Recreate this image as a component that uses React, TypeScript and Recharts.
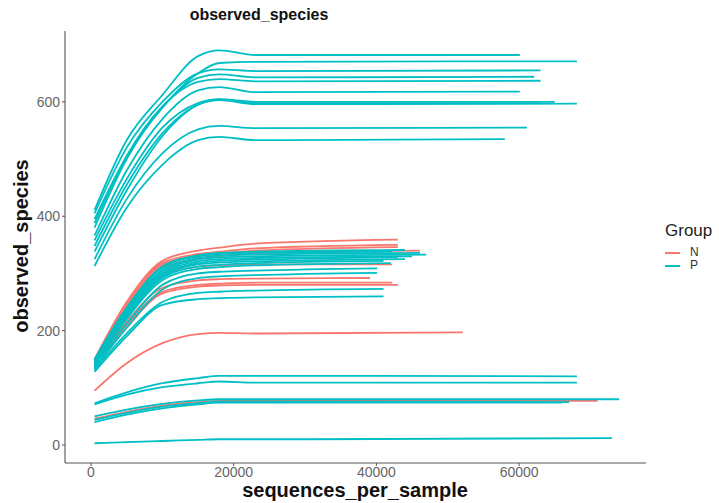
import React from "react";
import { LineChart, Line, XAxis, YAxis } from "recharts";

// rarefaction depths shared by every sample curve
const depths = [500, 5000, 10000, 15000, 18000, 23000];

// each row: values at the depths above, then last depth and value at last depth
const nSamples = [
  [150, 250, 322, 340, 345, 352, 43000, 359],
  [148, 245, 318, 334, 338, 344, 43000, 350],
  [145, 240, 315, 330, 335, 340, 43000, 346],
  [142, 235, 310, 325, 330, 335, 46100, 340],
  [140, 225, 295, 312, 314, 316, 42200, 316],
  [138, 215, 275, 288, 290, 291, 39100, 292],
  [136, 210, 268, 280, 282, 284, 42200, 284],
  [135, 205, 265, 277, 279, 280, 43000, 280],
  [95, 143, 178, 194, 196, 195, 52100, 197],
  [46, 58, 69, 75, 77, 77, 71000, 77],
];

const pSamplesHigh = [
  [411, 533, 612, 680, 690, 682, 60100, 682],
  [395, 505, 590, 650, 668, 670, 68100, 671],
  [405, 520, 600, 650, 657, 654, 63000, 655],
  [380, 500, 590, 642, 648, 643, 62100, 644],
  [388, 505, 592, 635, 640, 636, 63000, 637],
  [366, 480, 570, 620, 626, 617, 60100, 618],
  [358, 465, 555, 598, 605, 600, 65000, 600],
  [348, 455, 545, 595, 603, 596, 68100, 597],
  [338, 445, 540, 595, 604, 598, 63000, 598],
  [325, 430, 510, 552, 558, 554, 61100, 555],
  [313, 415, 490, 533, 539, 533, 58000, 535],
];

const pSamplesMid = [
  [150, 240, 312, 332, 336, 338, 44000, 341],
  [148, 238, 310, 330, 334, 336, 42200, 338],
  [146, 236, 306, 327, 331, 333, 46100, 336],
  [145, 233, 303, 324, 328, 330, 47000, 333],
  [143, 230, 300, 321, 325, 327, 45000, 330],
  [141, 228, 298, 318, 322, 324, 43000, 328],
  [140, 225, 295, 316, 319, 321, 44000, 325],
  [138, 222, 292, 312, 315, 318, 41000, 322],
  [137, 220, 288, 308, 311, 314, 42000, 318],
  [135, 212, 280, 300, 303, 305, 40100, 309],
  [133, 205, 272, 292, 295, 297, 40100, 301],
  [131, 195, 250, 266, 268, 270, 41000, 273],
  [128, 190, 245, 255, 257, 258, 41000, 260],
];

const pSamplesLow = [
  [73, 92, 108, 117, 121, 121, 68100, 120],
  [71, 88, 101, 108, 111, 109, 68100, 109],
  [50, 62, 72, 78, 80, 80, 74000, 80],
  [44, 56, 67, 73, 76, 76, 67000, 75],
  [40, 53, 64, 71, 74, 74, 66000, 74],
  [3, 5, 7, 9, 10, 10, 73000, 12],
];

const xTicks = [0, 20000, 40000, 60000];
const yTicks = [0, 200, 400, 600];
const groups = ["N", "P"];

const COLORS: Record<string, string> = { N: "#F8766D", P: "#00BFC4" };
const FONT = "'Liberation Sans', Arial, sans-serif";

function toPoints(row: number[]) {
  const pts = depths.map((d, i) => ({ x: d, v: row[i] }));
  pts.push({ x: row[6], v: row[7] });
  return pts;
}

const series = [
  ...nSamples.map((r) => ({ group: "N", points: toPoints(r) })),
  ...pSamplesHigh.map((r) => ({ group: "P", points: toPoints(r) })),
  ...pSamplesMid.map((r) => ({ group: "P", points: toPoints(r) })),
  ...pSamplesLow.map((r) => ({ group: "P", points: toPoints(r) })),
];

const tickStyle = { fill: "#666", fontSize: 14, fontFamily: FONT };

export default function App() {
  return (
    <div
      style={{
        position: "absolute",
        left: 0,
        top: 0,
        width: 719,
        height: 503,
        background: "#fff",
        fontFamily: FONT,
      }}
    >
      <LineChart
        width={719}
        height={503}
        margin={{ top: 31, right: 73, bottom: 0, left: 0 }}
      >
        <XAxis
          type="number"
          dataKey="x"
          domain={[-3644, 77785]}
          ticks={xTicks}
          allowDataOverflow
          height={40}
          stroke="#555"
          tickSize={3}
          tickMargin={1}
          tick={tickStyle}
          tickLine={{ stroke: "#555" }}
        />
        <YAxis
          type="number"
          domain={[-31.5, 724]}
          ticks={yTicks}
          allowDataOverflow
          width={65}
          stroke="#444"
          tickSize={3}
          tickMargin={2}
          tick={tickStyle}
          tickLine={{ stroke: "#555" }}
        />
        {series.map((s, i) => (
          <Line
            key={i}
            data={s.points}
            dataKey="v"
            type="monotone"
            stroke={COLORS[s.group]}
            strokeWidth={1.8}
            dot={false}
            activeDot={false}
            isAnimationActive={false}
          />
        ))}
      </LineChart>

      <div
        style={{
          position: "absolute",
          left: 259,
          top: 6,
          transform: "translateX(-50%)",
          fontWeight: "bold",
          fontSize: 16,
          lineHeight: "18px",
          whiteSpace: "nowrap",
          color: "#111",
        }}
      >
        observed_species
      </div>
      <div
        style={{
          position: "absolute",
          left: 355,
          top: 484,
          transform: "translateX(-50%)",
          fontWeight: "bold",
          fontSize: 20,
          lineHeight: "13px",
          whiteSpace: "nowrap",
          color: "#111",
        }}
      >
        sequences_per_sample
      </div>
      <div
        style={{
          position: "absolute",
          left: 21,
          top: 246,
          transform: "translate(-50%, -50%) rotate(-90deg)",
          fontWeight: "bold",
          fontSize: 20,
          lineHeight: "20px",
          whiteSpace: "nowrap",
          color: "#111",
        }}
      >
        observed_species
      </div>

      <div style={{ position: "absolute", left: 665, top: 221 }}>
        <div style={{ fontSize: 17, color: "#222", lineHeight: "20px" }}>
          Group
        </div>
        {groups.map((g) => (
          <div
            key={g}
            style={{
              display: "flex",
              alignItems: "center",
              height: 13,
              marginTop: g === "N" ? 5 : 0,
            }}
          >
            <div
              style={{
                width: 15,
                height: 2,
                background: COLORS[g],
                marginRight: 10,
              }}
            />
            <span style={{ fontSize: 12, color: "#333", lineHeight: "11px" }}>
              {g}
            </span>
          </div>
        ))}
      </div>
    </div>
  );
}
